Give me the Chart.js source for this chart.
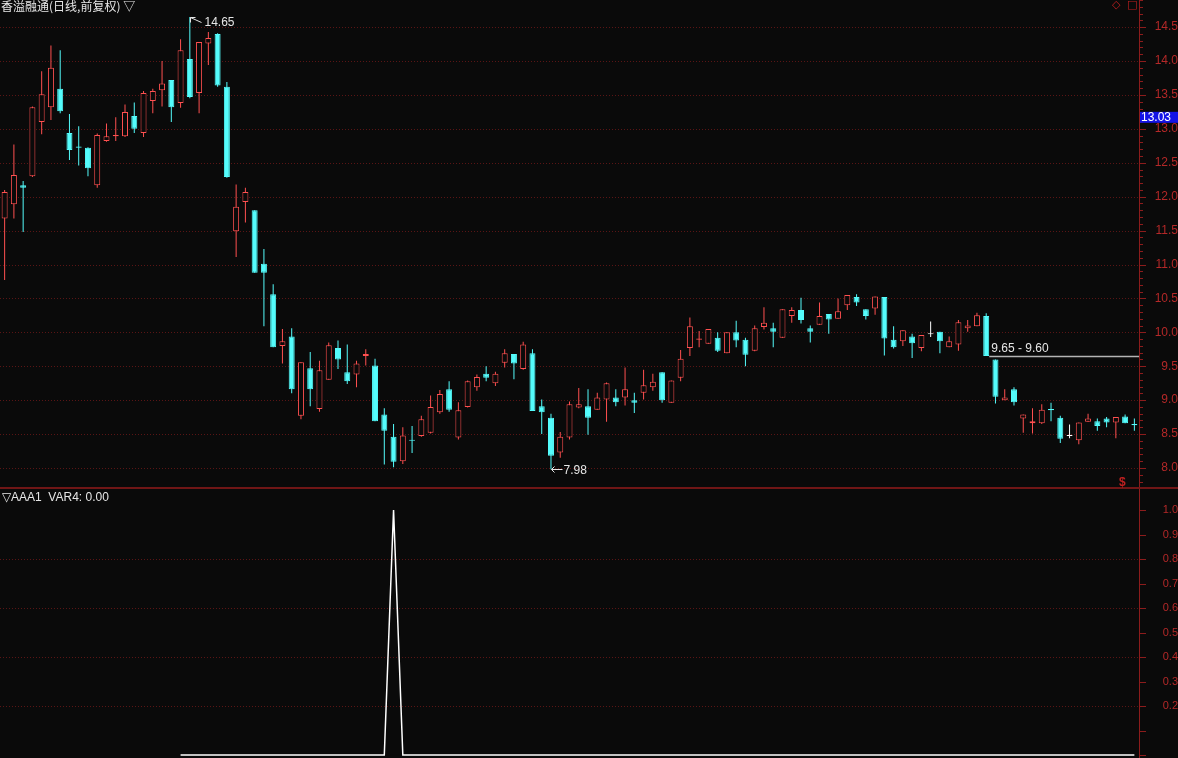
<!DOCTYPE html>
<html>
<head>
<meta charset="utf-8">
<script src="https://cdn.jsdelivr.net/npm/chart.js@4.4.1/dist/chart.umd.min.js"></script>
<style>
  html, body { margin: 0; padding: 0; background: #0a0a0a; }
  #wrap { position: relative; width: 1178px; height: 758px; overflow: hidden; background: #0a0a0a; }
  canvas { position: absolute; left: 0; }
  #kline { top: 0; }
  #ind { top: 489px; }
</style>
</head>
<body>
<div id="wrap">
  <canvas id="kline" width="1178" height="489"></canvas>
  <canvas id="ind" width="1178" height="269"></canvas>
</div>
<script>
const TITLE = '香溢融通(日线,前复权) ▽';
const IND_TITLE = '▽AAA1  VAR4: 0.00';

const OPEN = [
  11.68, 11.89, 12.17, 12.30, 13.10, 13.32, 13.59, 12.94, 12.74, 12.72,
  12.17, 12.82, 12.89, 12.89, 13.19, 12.94, 13.41, 13.57, 13.72, 13.38,
  14.03, 13.53, 14.26, 14.40, 13.62, 11.49, 11.92, 11.80, 11.01, 10.56,
  9.80, 9.94, 8.77, 9.47, 8.87, 9.30, 9.77, 9.41, 9.38, 9.65,
  9.51, 8.79, 8.46, 8.10, 8.41, 8.47, 8.52, 8.82, 9.16, 8.45,
  8.90, 9.19, 9.39, 9.25, 9.55, 9.68, 9.46, 9.69, 8.91, 8.74,
  8.23, 8.45, 8.89, 8.91, 8.86, 9.01, 9.04, 9.04, 9.00, 9.11,
  9.19, 9.41, 8.96, 9.33, 9.77, 9.89, 9.83, 9.92, 9.69, 10.00,
  9.89, 9.73, 10.08, 10.06, 9.92, 10.24, 10.33, 10.06, 10.11, 10.27,
  10.20, 10.40, 10.52, 10.34, 10.35, 10.52, 9.89, 9.87, 9.94, 9.77,
  9.97, 10.01, 9.78, 9.82, 10.06, 10.09, 10.24, 9.60, 9.00, 9.16,
  8.73, 8.66, 8.66, 8.87, 8.74, 8.47, 8.41, 8.68, 8.69, 8.73,
  8.67, 8.76, 8.65
];
const HIGH = [
  12.10, 12.77, 12.23, 13.33, 13.85, 14.23, 14.16, 13.22, 13.04, 12.73,
  12.93, 13.08, 13.17, 13.36, 13.39, 13.56, 13.59, 14.00, 13.72, 14.32,
  14.65, 14.28, 14.43, 14.41, 13.69, 12.18, 12.13, 11.80, 11.23, 10.71,
  10.05, 10.06, 9.56, 9.71, 9.58, 9.85, 9.88, 9.82, 9.58, 9.75,
  9.61, 8.88, 8.65, 8.60, 8.62, 8.77, 9.07, 9.15, 9.28, 8.97,
  9.29, 9.38, 9.50, 9.42, 9.75, 9.68, 9.86, 9.75, 9.01, 8.80,
  8.53, 8.98, 9.18, 9.16, 9.11, 9.26, 9.16, 9.48, 9.11, 9.45,
  9.39, 9.41, 9.29, 9.74, 10.22, 10.02, 10.05, 10.00, 10.00, 10.17,
  9.92, 10.10, 10.37, 10.14, 10.34, 10.37, 10.51, 10.10, 10.44, 10.27,
  10.50, 10.55, 10.56, 10.34, 10.53, 10.52, 10.09, 10.03, 9.98, 9.96,
  10.16, 10.01, 9.94, 10.18, 10.18, 10.29, 10.28, 9.60, 9.16, 9.19,
  8.79, 8.88, 8.94, 8.96, 8.77, 8.64, 8.67, 8.80, 8.73, 8.75,
  8.75, 8.79, 8.73
];
const LOW = [
  10.77, 11.68, 11.48, 12.29, 12.92, 13.13, 13.23, 12.54, 12.46, 12.30,
  12.13, 12.81, 12.82, 12.88, 12.94, 12.88, 13.23, 13.33, 13.10, 13.31,
  13.45, 13.23, 13.94, 13.62, 12.28, 11.11, 11.62, 10.88, 10.09, 9.78,
  9.54, 9.10, 8.72, 8.91, 8.83, 9.30, 9.46, 9.24, 9.19, 9.51,
  8.69, 8.05, 8.01, 8.06, 8.22, 8.46, 8.51, 8.80, 8.83, 8.42,
  8.89, 9.14, 9.28, 9.21, 9.48, 9.31, 9.45, 8.84, 8.50, 7.98,
  8.15, 8.42, 8.88, 8.49, 8.86, 8.68, 8.91, 8.92, 8.81, 9.01,
  9.14, 8.96, 8.96, 9.28, 9.65, 9.78, 9.83, 9.71, 9.69, 9.78,
  9.50, 9.72, 10.04, 9.78, 9.92, 10.14, 10.13, 9.85, 10.11, 9.98,
  10.20, 10.33, 10.39, 10.19, 10.26, 9.66, 9.76, 9.80, 9.62, 9.72,
  9.93, 9.69, 9.78, 9.73, 10.01, 10.09, 9.65, 8.95, 9.00, 8.92,
  8.52, 8.51, 8.65, 8.69, 8.37, 8.44, 8.35, 8.68, 8.55, 8.60,
  8.44, 8.66, 8.55
];
const CLOSE = [
  12.07, 12.32, 12.13, 13.32, 13.51, 13.90, 13.26, 12.69, 12.72, 12.42,
  12.91, 12.89, 12.91, 13.25, 13.00, 13.53, 13.56, 13.67, 13.32, 14.16,
  13.47, 14.28, 14.34, 13.64, 12.29, 11.85, 12.07, 10.88, 10.88, 9.78,
  9.87, 9.16, 9.56, 9.16, 9.44, 9.81, 9.60, 9.28, 9.54, 9.68,
  8.69, 8.55, 8.09, 8.48, 8.40, 8.72, 8.90, 9.09, 8.86, 8.85,
  9.28, 9.34, 9.33, 9.39, 9.69, 9.54, 9.82, 8.84, 8.82, 8.18,
  8.46, 8.94, 8.94, 8.74, 9.04, 9.25, 8.97, 9.16, 8.96, 9.22,
  9.27, 9.00, 9.29, 9.61, 10.09, 9.91, 10.05, 9.73, 10.00, 9.88,
  9.67, 10.06, 10.14, 10.01, 10.34, 10.33, 10.18, 10.01, 10.24, 10.19,
  10.31, 10.55, 10.44, 10.24, 10.53, 9.91, 9.78, 10.03, 9.84, 9.96,
  9.97, 9.87, 9.87, 10.15, 10.10, 10.25, 9.65, 9.05, 9.04, 8.97,
  8.79, 8.69, 8.86, 8.85, 8.43, 8.47, 8.67, 8.73, 8.62, 8.67,
  8.75, 8.66, 8.63
];
// indicator line, starts at bar 20
const VAR4 = [
  null, null, null, null, null, null, null, null, null, null,
  null, null, null, null, null, null, null, null, null,
  0, 0, 0, 0, 0, 0, 0, 0, 0, 0, 0,
  0, 0, 0, 0, 0, 0, 0, 0, 0, 0, 0, 0,
  1,
  0, 0, 0, 0, 0, 0, 0, 0, 0, 0,
  0, 0, 0, 0, 0, 0, 0, 0, 0, 0,
  0, 0, 0, 0, 0, 0, 0, 0, 0, 0,
  0, 0, 0, 0, 0, 0, 0, 0, 0, 0,
  0, 0, 0, 0, 0, 0, 0, 0, 0, 0,
  0, 0, 0, 0, 0, 0, 0, 0, 0, 0,
  0, 0, 0, 0, 0, 0, 0, 0, 0, 0,
  0, 0, 0, 0, 0, 0, 0, 0, 0, 0
];
const PRICE_TICKS = [8.0, 8.5, 9.0, 9.5, 10.0, 10.5, 11.0, 11.5, 12.0, 12.5, 13.0, 13.5, 14.0, 14.5];
const VAR_TICKS = [0.2, 0.3, 0.4, 0.5, 0.6, 0.7, 0.8, 0.9, 1.0];
const VAR_GRID = [0.2, 0.4, 0.6, 0.8];
const CUR_PRICE = 13.03;
const HIGH_MARK = 20, LOW_MARK = 59, GAP_BAR = 106;

const N = OPEN.length;
const DAYS = Array.from({ length: N }, (_, i) => i + 1);

const UP = '#ff5050', DOWN = '#54fcfc', FLAT = '#ffffff', BG = '#0a0a0a';
const AXIS = '#8c1c1c', LABEL = '#b42828', GRID = '#5a1515';
const NUM = '"Liberation Sans", Arial, sans-serif';
const CJK = '"Noto Sans CJK SC", sans-serif';

const dir = i => CLOSE[i] > OPEN[i] ? 1 : (CLOSE[i] < OPEN[i] ? -1 : 0);
const candleColor = i => dir(i) > 0 ? UP : (dir(i) < 0 ? DOWN : FLAT);

function fixAxis(s) {
  s.width = 39;
  s.paddingTop = 0;
  s.paddingBottom = 0;
}

// dotted grid, right axis line and small tick marks
function axisDeco(gridValues, majorEvery, bottomLine) {
  return {
    id: 'axisDeco',
    beforeDatasetsDraw(chart) {
      const { ctx, chartArea: a, scales: { y } } = chart;
      ctx.save();
      ctx.lineWidth = 1;
      ctx.strokeStyle = GRID;
      ctx.setLineDash([1, 2]);
      gridValues.forEach(v => {
        const py = Math.round(y.getPixelForValue(v)) + 0.5;
        ctx.beginPath(); ctx.moveTo(a.left, py); ctx.lineTo(a.right, py); ctx.stroke();
      });
      ctx.setLineDash([]);
      ctx.strokeStyle = AXIS;
      ctx.beginPath(); ctx.moveTo(a.right + 0.5, 0); ctx.lineTo(a.right + 0.5, chart.height); ctx.stroke();
      for (let k = Math.ceil(y.min * 10); k <= Math.floor(y.max * 10); k++) {
        const py = Math.round(y.getPixelForValue(k / 10)) + 0.5;
        const len = k % majorEvery === 0 ? 6 : 3;
        ctx.beginPath(); ctx.moveTo(a.right + 1, py); ctx.lineTo(a.right + 1 + len, py); ctx.stroke();
      }
      if (bottomLine) {
        ctx.strokeStyle = '#701616';
        ctx.lineWidth = 2;
        ctx.beginPath(); ctx.moveTo(0, chart.height - 1); ctx.lineTo(chart.width, chart.height - 1); ctx.stroke();
      }
      ctx.restore();
    }
  };
}

const klineText = {
  id: 'klineText',
  afterDraw(chart) {
    const { ctx, chartArea: a, scales: { x, y } } = chart;
    ctx.save();
    ctx.textBaseline = 'middle';
    ctx.fillStyle = '#e6e6e6';
    ctx.font = '12px ' + CJK;
    ctx.fillText(TITLE, 1, 6);

    ctx.fillStyle = '#c02020';
    ctx.font = '11px "DejaVu Sans", sans-serif';
    ctx.fillText('◇', 1112, 5);
    ctx.fillText('□', 1127, 5);
    ctx.font = 'bold 12px ' + NUM;
    ctx.fillText('$', 1119, 483);

    ctx.strokeStyle = '#e6e6e6';
    ctx.fillStyle = '#e6e6e6';
    ctx.lineWidth = 1;
    ctx.font = '12px ' + NUM;
    // highest mark
    let px = Math.round(x.getPixelForValue(HIGH_MARK)) + 0.5;
    let py = Math.round(y.getPixelForValue(HIGH[HIGH_MARK])) + 0.5;
    ctx.beginPath();
    ctx.moveTo(px + 5, py); ctx.lineTo(px, py); ctx.lineTo(px, py + 5);
    ctx.moveTo(px, py); ctx.lineTo(px + 11, py + 5);
    ctx.stroke();
    ctx.fillText(HIGH[HIGH_MARK].toFixed(2), px + 14, py + 5);
    // lowest mark
    px = Math.round(x.getPixelForValue(LOW_MARK)) + 0.5;
    py = Math.round(y.getPixelForValue(LOW[LOW_MARK])) + 0.5;
    ctx.beginPath();
    ctx.moveTo(px, py); ctx.lineTo(px + 11, py);
    ctx.moveTo(px + 3, py - 3); ctx.lineTo(px, py); ctx.lineTo(px + 3, py + 3);
    ctx.stroke();
    ctx.fillText(LOW[LOW_MARK].toFixed(2), px + 12, py + 1);
    // gap line
    px = x.getPixelForValue(GAP_BAR) + 3;
    py = Math.round(y.getPixelForValue(CLOSE[GAP_BAR])) + 0.5;
    ctx.strokeStyle = '#b4b4b4';
    ctx.lineWidth = 1.5;
    ctx.beginPath(); ctx.moveTo(px, py); ctx.lineTo(a.right, py); ctx.stroke();
    ctx.fillText(CLOSE[GAP_BAR].toFixed(2) + ' - ' + OPEN[GAP_BAR + 1].toFixed(2), px + 2, py - 8);
    // current price box on the axis
    py = y.getPixelForValue(CUR_PRICE);
    ctx.fillStyle = '#1414e6';
    ctx.fillRect(a.right + 1, py - 15, chart.width - a.right - 1, 11);
    ctx.fillStyle = '#ffffff';
    ctx.fillText(CUR_PRICE.toFixed(2), a.right + 2, py - 9);
    ctx.restore();
  }
};

const indText = {
  id: 'indText',
  afterDraw(chart) {
    const { ctx } = chart;
    ctx.save();
    ctx.textBaseline = 'middle';
    ctx.fillStyle = '#e6e6e6';
    ctx.font = '12px ' + NUM;
    ctx.fillText(IND_TITLE, 2, 9);
    ctx.restore();
  }
};

new Chart(document.getElementById('kline'), {
  type: 'bar',
  data: {
    labels: DAYS,
    datasets: [
      {
        label: 'wick',
        data: LOW.map((l, i) => [l, HIGH[i]]),
        backgroundColor: DAYS.map((_, i) => candleColor(i)),
        borderWidth: 0,
        barThickness: 1,
        grouped: false,
        inflateAmount: 0,
        order: 2
      },
      {
        label: 'body',
        data: OPEN.map((o, i) => [o, CLOSE[i]]),
        backgroundColor: DAYS.map((_, i) => dir(i) > 0 ? BG : candleColor(i)),
        borderColor: DAYS.map((_, i) => candleColor(i)),
        borderWidth: 1,
        borderSkipped: false,
        barThickness: 6,
        minBarLength: 1,
        grouped: false,
        inflateAmount: 0,
        order: 1
      }
    ]
  },
  options: {
    responsive: false,
    animation: false,
    layout: { padding: 0 },
    plugins: { legend: { display: false }, tooltip: { enabled: false } },
    scales: {
      x: { display: false, offset: true },
      y: {
        position: 'right',
        min: 7.69,
        max: 14.9,
        afterFit: fixAxis,
        afterBuildTicks: s => { s.ticks = PRICE_TICKS.map(v => ({ value: v })); },
        grid: { display: false, drawTicks: false },
        border: { display: false },
        ticks: {
          color: LABEL,
          font: { family: NUM, size: 12 },
          crossAlign: 'far',
          padding: 15,
          callback: v => Number(v).toFixed(1)
        }
      }
    }
  },
  plugins: [axisDeco(PRICE_TICKS, 5, true), klineText]
});

new Chart(document.getElementById('ind'), {
  type: 'line',
  data: {
    labels: DAYS,
    datasets: [{
      label: 'VAR4',
      data: VAR4,
      borderColor: '#ffffff',
      borderWidth: 1.5,
      pointRadius: 0,
      tension: 0,
      spanGaps: false
    }]
  },
  options: {
    responsive: false,
    animation: false,
    layout: { padding: 0 },
    plugins: { legend: { display: false }, tooltip: { enabled: false } },
    scales: {
      x: { display: false, offset: true },
      y: {
        position: 'right',
        min: -0.012,
        max: 1.086,
        afterFit: fixAxis,
        afterBuildTicks: s => { s.ticks = VAR_TICKS.map(v => ({ value: v })); },
        grid: { display: false, drawTicks: false },
        border: { display: false },
        ticks: {
          color: LABEL,
          font: { family: NUM, size: 11 },
          crossAlign: 'far',
          padding: 23,
          callback: v => Number(v).toFixed(1)
        }
      }
    }
  },
  plugins: [axisDeco(VAR_GRID, 1, false), indText]
});
</script>
</body>
</html>
